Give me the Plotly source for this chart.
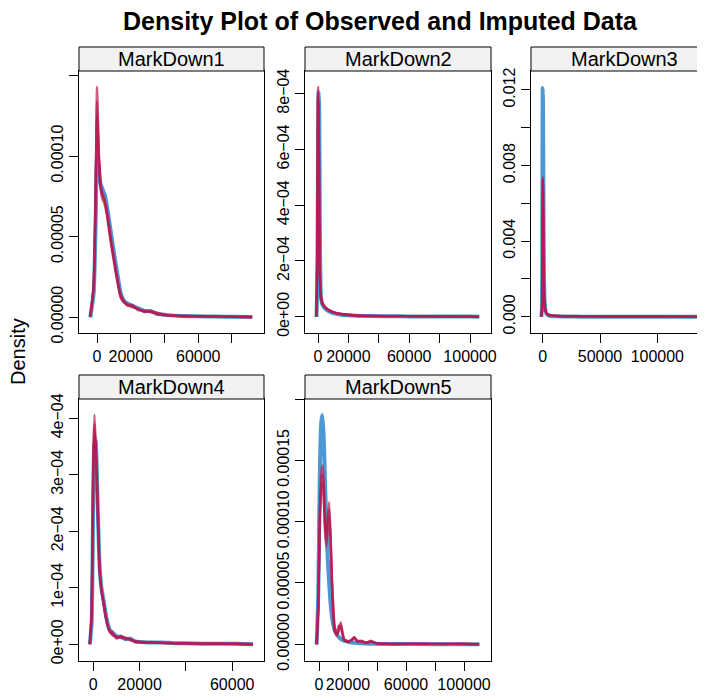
import plotly.graph_objects as go

# ---- data --------------------------------------------------------------
panels = ["MarkDown1", "MarkDown2", "MarkDown3", "MarkDown4", "MarkDown5"]

# MarkDown1  (density in units of 1e-5)
md1_x = [-4000, -2000, -800, 0, 1000, 2000, 3000, 4500, 6000, 8000, 10000, 12000, 14000,
         16000, 18000, 21000, 24000, 28000, 32000, 36000, 42000, 50000, 60000, 70000, 80000, 92000]
md1_obs = [0, 1.5, 6.0, 9.9, 9.3, 8.3, 8.0, 7.6, 6.8, 5.4, 4.0, 2.7, 1.5,
           1.0, 0.85, 0.7, 0.55, 0.4, 0.35, 0.2, 0.12, 0.06, 0.05, 0.03, 0.02, 0.0]
md1_imp = [
    [0, 2.0, 8.5, 14.3, 10.5, 8.2, 7.6, 7.2, 6.4, 4.9, 3.6, 2.3, 1.3,
     0.95, 0.8, 0.7, 0.5, 0.35, 0.4, 0.2, 0.1, 0.08, 0.05, 0.04, 0.02, 0.0],
    [0, 1.8, 8.0, 13.4, 10.0, 8.0, 7.4, 7.0, 6.2, 4.7, 3.4, 2.2, 1.2,
     0.9, 0.75, 0.6, 0.55, 0.3, 0.35, 0.15, 0.12, 0.05, 0.06, 0.03, 0.02, 0.0],
    [0, 1.9, 7.6, 12.6, 10.2, 8.4, 7.8, 7.3, 6.5, 5.0, 3.7, 2.4, 1.4,
     1.0, 0.7, 0.75, 0.45, 0.4, 0.3, 0.25, 0.1, 0.07, 0.04, 0.05, 0.01, 0.0],
]

# MarkDown2  (units of 1e-4)
md2_x = [-1000, -500, 0, 400, 800, 1200, 1700, 2300, 3000, 4000, 5500, 7000, 9000, 12000,
         16000, 20000, 25000, 30000, 40000, 50000, 60000, 70000, 80000, 90000, 100000, 106000]
md2_obs = [0, 1.0, 5.5, 8.07, 7.5, 3.5, 1.0, 0.55, 0.42, 0.33, 0.25, 0.2, 0.15, 0.1,
           0.06, 0.05, 0.035, 0.025, 0.02, 0.015, 0.012, 0.01, 0.01, 0.008, 0.006, 0.0]
md2_imp = [
    [0, 2.5, 8.22, 7.0, 4.0, 1.6, 0.8, 0.55, 0.45, 0.38, 0.3, 0.24, 0.18, 0.13,
     0.09, 0.06, 0.04, 0.03, 0.025, 0.02, 0.02, 0.015, 0.015, 0.01, 0.01, 0.0],
    [0, 2.0, 7.8, 7.4, 4.5, 1.8, 0.9, 0.6, 0.5, 0.4, 0.32, 0.25, 0.2, 0.12,
     0.1, 0.07, 0.05, 0.035, 0.02, 0.025, 0.015, 0.02, 0.01, 0.015, 0.01, 0.0],
    [0, 2.2, 8.0, 7.2, 4.2, 1.7, 0.85, 0.58, 0.47, 0.36, 0.28, 0.22, 0.17, 0.14,
     0.08, 0.06, 0.045, 0.03, 0.03, 0.02, 0.02, 0.015, 0.012, 0.012, 0.008, 0.0],
]

# MarkDown3  (units of 1e-3)
md3_x = [-1200, -600, -250, 0, 250, 600, 1000, 1600, 2500, 4000, 7000, 12000, 20000,
         35000, 55000, 80000, 110000, 145000]
md3_obs = [0, 0.5, 6.0, 12.1, 11.5, 7.0, 3.0, 0.9, 0.3, 0.1, 0.04, 0.02, 0.01,
           0.006, 0.004, 0.003, 0.002, 0.0]
md3_imp = [
    [0, 0.4, 4.0, 7.4, 7.0, 4.5, 2.0, 0.7, 0.3, 0.15, 0.07, 0.04, 0.03, 0.02, 0.015, 0.01, 0.01, 0.0],
    [0, 0.35, 3.8, 7.2, 6.9, 4.6, 2.1, 0.75, 0.28, 0.13, 0.06, 0.05, 0.025, 0.02, 0.02, 0.012, 0.008, 0.0],
    [0, 0.45, 4.1, 7.3, 6.8, 4.4, 1.9, 0.65, 0.32, 0.14, 0.08, 0.035, 0.03, 0.025, 0.015, 0.01, 0.01, 0.0],
]

# MarkDown4  (units of 1e-4)
md4_x = [-1500, -700, 0, 500, 1000, 1500, 2000, 2700, 3500, 4500, 5500, 7000, 8500, 10000,
         12000, 14000, 16000, 18000, 21000, 25000, 30000, 35000, 40000, 47000, 55000, 62000, 69000]
md4_obs = [0, 0.4, 2.7, 3.55, 3.6, 3.1, 2.3, 1.4, 1.0, 0.76, 0.5, 0.26, 0.2, 0.14,
           0.13, 0.09, 0.1, 0.05, 0.04, 0.03, 0.03, 0.02, 0.02, 0.01, 0.01, 0.01, 0.0]
md4_imp = [
    [0, 0.6, 3.4, 4.06, 3.6, 3.0, 2.2, 1.3, 0.95, 0.72, 0.45, 0.22, 0.17, 0.12,
     0.15, 0.09, 0.1, 0.04, 0.03, 0.04, 0.02, 0.02, 0.01, 0.015, 0.01, 0.005, 0.0],
    [0, 0.5, 3.1, 3.8, 3.5, 3.0, 2.3, 1.35, 0.98, 0.7, 0.47, 0.25, 0.2, 0.1,
     0.13, 0.1, 0.08, 0.05, 0.04, 0.03, 0.03, 0.015, 0.02, 0.01, 0.01, 0.01, 0.0],
    [0, 0.55, 3.2, 3.9, 3.45, 2.9, 2.25, 1.32, 0.97, 0.74, 0.46, 0.24, 0.15, 0.14,
     0.11, 0.12, 0.07, 0.06, 0.03, 0.035, 0.025, 0.02, 0.015, 0.012, 0.008, 0.008, 0.0],
]

# MarkDown5  (units of 1e-5)
md5_x = [-1600, -500, 500, 1500, 2300, 3200, 4200, 5000, 6000, 7000, 8000, 9000, 10000, 11000,
         12200, 13500, 15000, 16200, 17500, 20000, 22500, 24300, 26500, 29400, 32500, 35900,
         39000, 45000, 55000, 70000, 85000, 100000, 110500]
md5_obs = [0, 4.0, 13.5, 18.0, 18.7, 17.0, 13.0, 10.0, 7.0, 5.0, 3.3, 2.2, 1.5, 1.1,
           0.9, 0.6, 0.45, 0.35, 0.3, 0.2, 0.15, 0.12, 0.1, 0.08, 0.06, 0.05,
           0.04, 0.03, 0.02, 0.02, 0.01, 0.01, 0.0]
md5_imp = [
    [0, 3.0, 10.0, 13.8, 14.6, 13.5, 10.0, 8.5, 9.8, 11.6, 9.0, 5.0, 2.5, 1.0,
     0.7, 1.2, 1.8, 0.9, 0.3, 0.2, 0.4, 0.6, 0.2, 0.3, 0.1, 0.3,
     0.1, 0.05, 0.03, 0.05, 0.03, 0.04, 0.0],
    [0, 2.8, 9.5, 12.8, 13.2, 12.0, 9.5, 9.0, 10.5, 11.0, 8.0, 4.5, 2.0, 1.0,
     0.9, 1.5, 1.4, 0.7, 0.3, 0.25, 0.3, 0.5, 0.25, 0.2, 0.15, 0.25,
     0.1, 0.04, 0.04, 0.03, 0.04, 0.03, 0.0],
    [0, 3.2, 10.5, 13.0, 13.8, 12.5, 9.0, 8.0, 9.0, 10.2, 8.5, 5.2, 2.8, 1.2,
     0.8, 1.0, 1.6, 1.0, 0.4, 0.2, 0.35, 0.55, 0.3, 0.25, 0.12, 0.2,
     0.12, 0.06, 0.03, 0.04, 0.03, 0.05, 0.0],
]

units = [1e-5, 1e-4, 1e-3, 1e-4, 1e-5]
xs = [md1_x, md2_x, md3_x, md4_x, md5_x]
obs = [md1_obs, md2_obs, md3_obs, md4_obs, md5_obs]
imps = [md1_imp, md2_imp, md3_imp, md4_imp, md5_imp]

# tick values / labels per panel (blank = tick without label, as lattice drops overlaps)
x_tickvals = [[0, 20000, 40000, 60000, 80000],
              [0, 20000, 40000, 60000, 80000, 100000],
              [0, 50000, 100000],
              [0, 20000, 40000, 60000],
              [0, 20000, 40000, 60000, 80000, 100000]]
x_ticktext = [["0", "20000", "", "60000", ""],
              ["0", "20000", "", "60000", "", "100000"],
              ["0", "50000", "100000"],
              ["0", "20000", "", "60000"],
              ["0", "20000", "", "60000", "", "100000"]]
y_tickvals = [[0, 5e-5, 1e-4, 1.5e-4],
              [0, 2e-4, 4e-4, 6e-4, 8e-4],
              [0, 0.002, 0.004, 0.006, 0.008, 0.010, 0.012],
              [0, 1e-4, 2e-4, 3e-4, 4e-4],
              [0, 5e-5, 1e-4, 1.5e-4, 2e-4]]
y_ticktext = [["0.00000", "0.00005", "0.00010", ""],
              ["0e+00", "2e\u221204", "4e\u221204", "6e\u221204", "8e\u221204"],
              ["0.000", "", "0.004", "", "0.008", "", "0.012"],
              ["0e+00", "1e\u221204", "2e\u221204", "3e\u221204", "4e\u221204"],
              ["0.00000", "0.00005", "0.00010", "0.00015", ""]]
x_ranges = [[-10700, 99000], [-8550, 113800], [-10200, 141600], [-6180, 73740], [-9650, 118600]]
y_ranges = [[-0.0000099, 0.0001528], [-0.0000584, 0.000881], [-0.00086, 0.0130],
            [-0.0000296, 0.000434], [-0.0000136, 0.0002]]

# ---- layout geometry (screen pixels; page body adds an 8px offset) -----
W, H, OFF = 705, 696, 8
FW, FH = W - OFF, H - OFF
col_px = [(79, 264), (305, 491), (531, 705)]
row_px = [(71, 333), (399, 661)]   # plot area top/bottom
STRIP = 24
cells = [(0, 0), (0, 1), (0, 2), (1, 0), (1, 1)]


def px(p):
    return (p - OFF) / FW


def py(p):
    return 1 - (p - OFF) / FH


OBS_COL = "rgba(0,108,194,0.7)"
IMP_COL = "rgba(182,26,81,0.7)"
FONT = "Liberation Sans, Arial, Helvetica, sans-serif"

fig = go.Figure()
shapes, annotations = [], []

for i, name in enumerate(panels):
    r, c = cells[i]
    ax = "" if i == 0 else str(i + 1)
    (x0, x1), (y0, y1) = col_px[c], row_px[r]
    u = units[i]

    fig.add_trace(go.Scatter(
        x=xs[i], y=[v * u for v in obs[i]], mode="lines",
        line=dict(color=OBS_COL, width=4, shape="spline", smoothing=0.5),
        xaxis="x" + ax, yaxis="y" + ax, showlegend=False, hoverinfo="skip"))
    for imp in imps[i]:
        fig.add_trace(go.Scatter(
            x=xs[i], y=[v * u for v in imp], mode="lines",
            line=dict(color=IMP_COL, width=2.4, shape="spline", smoothing=0.5),
            xaxis="x" + ax, yaxis="y" + ax, showlegend=False, hoverinfo="skip"))

    common = dict(showgrid=False, zeroline=False, showline=True, linecolor="black",
                  linewidth=1, ticks="outside", ticklen=9, tickcolor="black",
                  tickfont=dict(size=16, family=FONT, color="black"), tickmode="array",
                  automargin=False)
    fig.layout["xaxis" + ax] = dict(
        common, domain=[px(x0), min(px(x1), 1.0)], range=x_ranges[i], anchor="y" + ax,
        tickvals=x_tickvals[i], ticktext=x_ticktext[i], tickangle=0, mirror=True)
    fig.layout["yaxis" + ax] = dict(
        common, domain=[py(y1), py(y0)], range=y_ranges[i], anchor="x" + ax,
        tickvals=y_tickvals[i], ticktext=y_ticktext[i], tickangle=-90,
        mirror=(c != 2))

    # strip header
    xr = x1 + (12 if c == 2 else 0)
    shapes.append(dict(type="rect", xref="paper", yref="paper",
                       x0=px(x0), x1=px(xr), y0=py(y0), y1=py(y0 - STRIP),
                       fillcolor="#F2F2F2", line=dict(color="black", width=1)))
    annotations.append(dict(text=name, xref="paper", yref="paper",
                            x=px((x0 + xr) / 2), y=py(y0 - STRIP / 2),
                            showarrow=False, xanchor="center", yanchor="middle",
                            font=dict(size=20, family=FONT, color="black")))

annotations.append(dict(text="<b>Density Plot of Observed and Imputed Data</b>",
                        xref="paper", yref="paper", x=px(380), y=py(21),
                        showarrow=False, xanchor="center", yanchor="middle",
                        font=dict(size=25, family=FONT, color="black")))
annotations.append(dict(text="Density", xref="paper", yref="paper", x=px(18),
                        y=py(352), textangle=-90, showarrow=False,
                        xanchor="center", yanchor="middle",
                        font=dict(size=20, family=FONT, color="black")))

fig.update_layout(
    width=FW, height=FH,
    margin=dict(l=0, r=0, t=0, b=0, pad=0),
    paper_bgcolor="white", plot_bgcolor="white",
    shapes=shapes, annotations=annotations,
)

fig.write_html("out.html")
